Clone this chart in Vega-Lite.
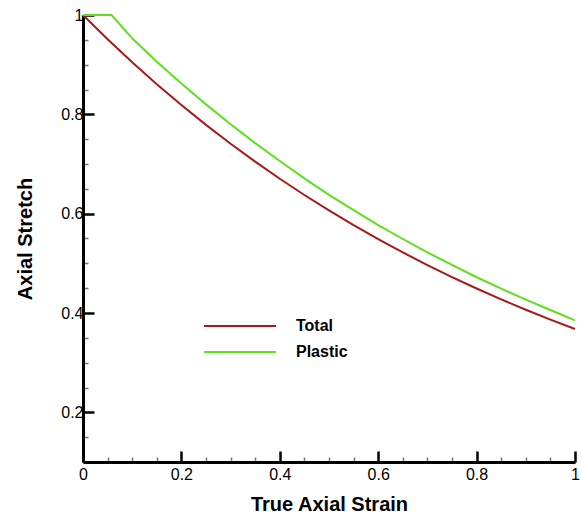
{
  "$schema": "https://vega.github.io/schema/vega-lite/v6.json",
  "autosize": "none",
  "width": 492,
  "height": 447,
  "padding": {"left": 83, "top": 15, "right": 6, "bottom": 55},
  "background": "white",
  "config": {
    "view": {"stroke": null},
    "font": "Liberation Sans"
  },
  "data": {
    "values": [
      {"strain": 0, "stretch": 1, "series": "Total"},
      {"strain": 0.05, "stretch": 0.9512, "series": "Total"},
      {"strain": 0.1, "stretch": 0.9048, "series": "Total"},
      {"strain": 0.15, "stretch": 0.8607, "series": "Total"},
      {"strain": 0.2, "stretch": 0.8187, "series": "Total"},
      {"strain": 0.25, "stretch": 0.7788, "series": "Total"},
      {"strain": 0.3, "stretch": 0.7408, "series": "Total"},
      {"strain": 0.35, "stretch": 0.7047, "series": "Total"},
      {"strain": 0.4, "stretch": 0.6703, "series": "Total"},
      {"strain": 0.45, "stretch": 0.6376, "series": "Total"},
      {"strain": 0.5, "stretch": 0.6065, "series": "Total"},
      {"strain": 0.55, "stretch": 0.5769, "series": "Total"},
      {"strain": 0.6, "stretch": 0.5488, "series": "Total"},
      {"strain": 0.65, "stretch": 0.522, "series": "Total"},
      {"strain": 0.7, "stretch": 0.4966, "series": "Total"},
      {"strain": 0.75, "stretch": 0.4724, "series": "Total"},
      {"strain": 0.8, "stretch": 0.4493, "series": "Total"},
      {"strain": 0.85, "stretch": 0.4274, "series": "Total"},
      {"strain": 0.9, "stretch": 0.4066, "series": "Total"},
      {"strain": 0.95, "stretch": 0.3867, "series": "Total"},
      {"strain": 1, "stretch": 0.3679, "series": "Total"},
      {"strain": 0, "stretch": 1, "series": "Plastic"},
      {"strain": 0.058, "stretch": 1, "series": "Plastic"},
      {"strain": 0.1, "stretch": 0.953, "series": "Plastic"},
      {"strain": 0.15, "stretch": 0.906, "series": "Plastic"},
      {"strain": 0.2, "stretch": 0.862, "series": "Plastic"},
      {"strain": 0.25, "stretch": 0.82, "series": "Plastic"},
      {"strain": 0.3, "stretch": 0.78, "series": "Plastic"},
      {"strain": 0.35, "stretch": 0.742, "series": "Plastic"},
      {"strain": 0.4, "stretch": 0.706, "series": "Plastic"},
      {"strain": 0.45, "stretch": 0.671, "series": "Plastic"},
      {"strain": 0.5, "stretch": 0.638, "series": "Plastic"},
      {"strain": 0.55, "stretch": 0.607, "series": "Plastic"},
      {"strain": 0.6, "stretch": 0.577, "series": "Plastic"},
      {"strain": 0.65, "stretch": 0.549, "series": "Plastic"},
      {"strain": 0.7, "stretch": 0.522, "series": "Plastic"},
      {"strain": 0.75, "stretch": 0.497, "series": "Plastic"},
      {"strain": 0.8, "stretch": 0.472, "series": "Plastic"},
      {"strain": 0.85, "stretch": 0.449, "series": "Plastic"},
      {"strain": 0.9, "stretch": 0.427, "series": "Plastic"},
      {"strain": 0.95, "stretch": 0.406, "series": "Plastic"},
      {"strain": 1, "stretch": 0.385, "series": "Plastic"}
    ]
  },
  "mark": {"type": "line", "strokeWidth": 2, "clip": false},
  "encoding": {
    "x": {
      "field": "strain",
      "type": "quantitative",
      "scale": {"domain": [0, 1], "nice": false},
      "axis": {
        "title": "True Axial Strain",
        "titleFont": "Liberation Sans",
        "titleFontSize": 20,
        "titleFontWeight": "bold",
        "titleColor": "black",
        "titlePadding": 6,
        "values": [0, 0.05, 0.1, 0.15, 0.2, 0.25, 0.3, 0.35, 0.4, 0.45, 0.5, 0.55, 0.6, 0.65, 0.7, 0.75, 0.8, 0.85, 0.9, 0.95, 1],
        "labelExpr": "abs(datum.value*5 - round(datum.value*5)) < 0.001 ? format(datum.value, '~g') : ''",
        "labelFont": "Liberation Sans",
        "labelFontSize": 16,
        "labelColor": "black",
        "labelPadding": 15,
        "labelFlush": false,
        "labelOverlap": false,
        "grid": false,
        "domainColor": "black",
        "domainWidth": 3,
        "tickColor": {"condition": {"test": "abs(datum.value*5 - round(datum.value*5)) < 0.001", "value": "black"}, "value": "#777777"},
        "tickWidth": {"condition": {"test": "abs(datum.value*5 - round(datum.value*5)) < 0.001", "value": 2.5}, "value": 1.5},
        "tickSize": {"condition": {"test": "abs(datum.value*5 - round(datum.value*5)) < 0.001", "value": -11}, "value": -5}
      }
    },
    "y": {
      "field": "stretch",
      "type": "quantitative",
      "scale": {"domain": [0.1, 1], "nice": false, "zero": false},
      "axis": {
        "title": "Axial Stretch",
        "titleFont": "Liberation Sans",
        "titleFontSize": 20,
        "titleFontWeight": "bold",
        "titleColor": "black",
        "titlePadding": 25,
        "values": [0.15, 0.2, 0.25, 0.3, 0.35, 0.4, 0.45, 0.5, 0.55, 0.6, 0.65, 0.7, 0.75, 0.8, 0.85, 0.9, 0.95, 1],
        "labelExpr": "abs(datum.value*5 - round(datum.value*5)) < 0.001 ? format(datum.value, '~g') : ''",
        "labelFont": "Liberation Sans",
        "labelFontSize": 16,
        "labelColor": "black",
        "labelPadding": 11,
        "labelFlush": false,
        "labelOverlap": false,
        "grid": false,
        "domainColor": "black",
        "domainWidth": 3,
        "tickColor": {"condition": {"test": "abs(datum.value*5 - round(datum.value*5)) < 0.001", "value": "black"}, "value": "#777777"},
        "tickWidth": {"condition": {"test": "abs(datum.value*5 - round(datum.value*5)) < 0.001", "value": 2.5}, "value": 1.5},
        "tickSize": {"condition": {"test": "abs(datum.value*5 - round(datum.value*5)) < 0.001", "value": -11}, "value": -5}
      }
    },
    "color": {
      "field": "series",
      "type": "nominal",
      "scale": {"domain": ["Total", "Plastic"], "range": ["#a8191c", "#5ee01c"]},
      "legend": {
        "title": null,
        "orient": "none",
        "legendX": 144,
        "legendY": 298,
        "symbolType": "M-3,0H3",
        "symbolSize": 576,
        "symbolStrokeWidth": 2,
        "labelFont": "Liberation Sans",
        "labelFontSize": 16,
        "labelFontWeight": "bold",
        "labelColor": "black",
        "labelOffset": 43,
        "rowPadding": 5
      }
    }
  }
}
